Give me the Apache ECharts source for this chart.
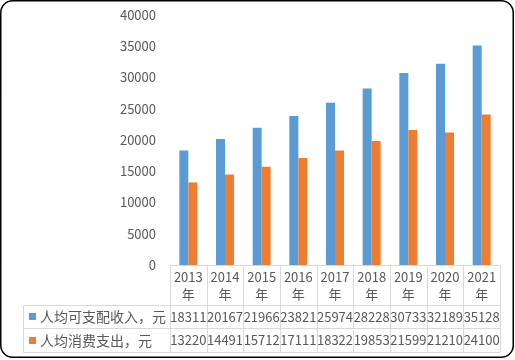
<!DOCTYPE html>
<html><head><meta charset="utf-8">
<script src="https://cdn.jsdelivr.net/npm/echarts@6/dist/echarts.min.js"></script>
<style>html,body{margin:0;padding:0;background:#fff}#c{width:515px;height:360px}</style>
</head><body><div id="c"></div>
<script>
const categories = ['2013\n年','2014\n年','2015\n年','2016\n年','2017\n年','2018\n年','2019\n年','2020\n年','2021\n年'];
const incomeName = '人均可支配收入，元';
const expenseName = '人均消费支出，元';
const income = [18311, 20167, 21966, 23821, 25974, 28228, 30733, 32189, 35128];
const expense = [13220, 14491, 15712, 17111, 18322, 19853, 21599, 21210, 24100];
const yTicks = {min: 0, max: 40000, interval: 5000};

const FONT = '"Noto Sans CJK SC", "Noto Sans", sans-serif';
const TXT = '#595959';
const BLUE = '#5B9BD5', ORANGE = '#ED7D31', GRID = '#d9d9d9';

const chart = echarts.init(document.getElementById('c'));
chart.setOption({
  animation: false,
  textStyle: {fontFamily: FONT},
  grid: {left: 170, right: 15, top: 15, bottom: 95},
  xAxis: {
    type: 'category', data: categories,
    axisLine: {show: true, lineStyle: {color: GRID, width: 1}},
    axisTick: {show: false},
    axisLabel: {color: TXT, fontSize: 13, lineHeight: 17, margin: 4, interval: 0, fontFamily: FONT}
  },
  yAxis: {
    type: 'value', min: yTicks.min, max: yTicks.max, interval: yTicks.interval,
    splitLine: {show: false}, axisLine: {show: false}, axisTick: {show: false},
    axisLabel: {color: TXT, fontSize: 13, margin: 14, fontFamily: FONT, formatter: v => String(v)}
  },
  series: [
    {name: incomeName, type: 'bar', data: income, barWidth: 9, barGap: '0%', itemStyle: {color: BLUE}},
    {name: expenseName, type: 'bar', data: expense, barWidth: 9, barGap: '0%', itemStyle: {color: ORANGE}}
  ]
});

const x0 = chart.convertToPixel({xAxisIndex: 0}, 0);
const x1 = chart.convertToPixel({xAxisIndex: 0}, 1);
const band = x1 - x0;
const leftEdge = x0 - band / 2;
const rightEdge = chart.convertToPixel({xAxisIndex: 0}, categories.length - 1) + band / 2;
const axisY = chart.convertToPixel({yAxisIndex: 0}, 0);
const hdrBottom = 305.5, row1Bottom = 328.5, row2Bottom = 352.5, tableLeft = 23.5;
const g = [];
function line(xa, ya, xb, yb) {
  g.push({type: 'line', shape: {x1: xa, y1: ya, x2: xb, y2: yb}, style: {stroke: GRID, lineWidth: 1}, silent: true});
}
for (let i = 0; i <= categories.length; i++) {
  const xx = Math.round(leftEdge + i * band) + 0.5;
  line(xx, axisY, xx, row2Bottom);
}
line(tableLeft, hdrBottom, tableLeft, row2Bottom);
[hdrBottom, row1Bottom, row2Bottom].forEach(yy => line(tableLeft, yy, rightEdge, yy));

const rows = [[income, incomeName, BLUE, (hdrBottom + row1Bottom) / 2], [expense, expenseName, ORANGE, (row1Bottom + row2Bottom) / 2]];
rows.forEach(([vals, name, col, cy]) => {
  g.push({type: 'rect', shape: {x: 29, y: Math.round(cy) - 4, width: 7, height: 7}, style: {fill: col}});
  g.push({type: 'text', x: 40, y: cy, style: {text: name, fill: TXT, font: '14px ' + FONT, textAlign: 'left', textVerticalAlign: 'middle'}});
  vals.forEach((v, i) => {
    g.push({type: 'text', x: chart.convertToPixel({xAxisIndex: 0}, i), y: cy,
      style: {text: String(v), fill: TXT, font: '13px ' + FONT, textAlign: 'center', textVerticalAlign: 'middle'}});
  });
});
g.push({type: 'rect', shape: {x: 0.75, y: 0.75, width: 512.5, height: 356.5, r: 12}, style: {fill: 'none', stroke: '#000', lineWidth: 1.5}, z: 100});
chart.setOption({graphic: g});
</script></body></html>
